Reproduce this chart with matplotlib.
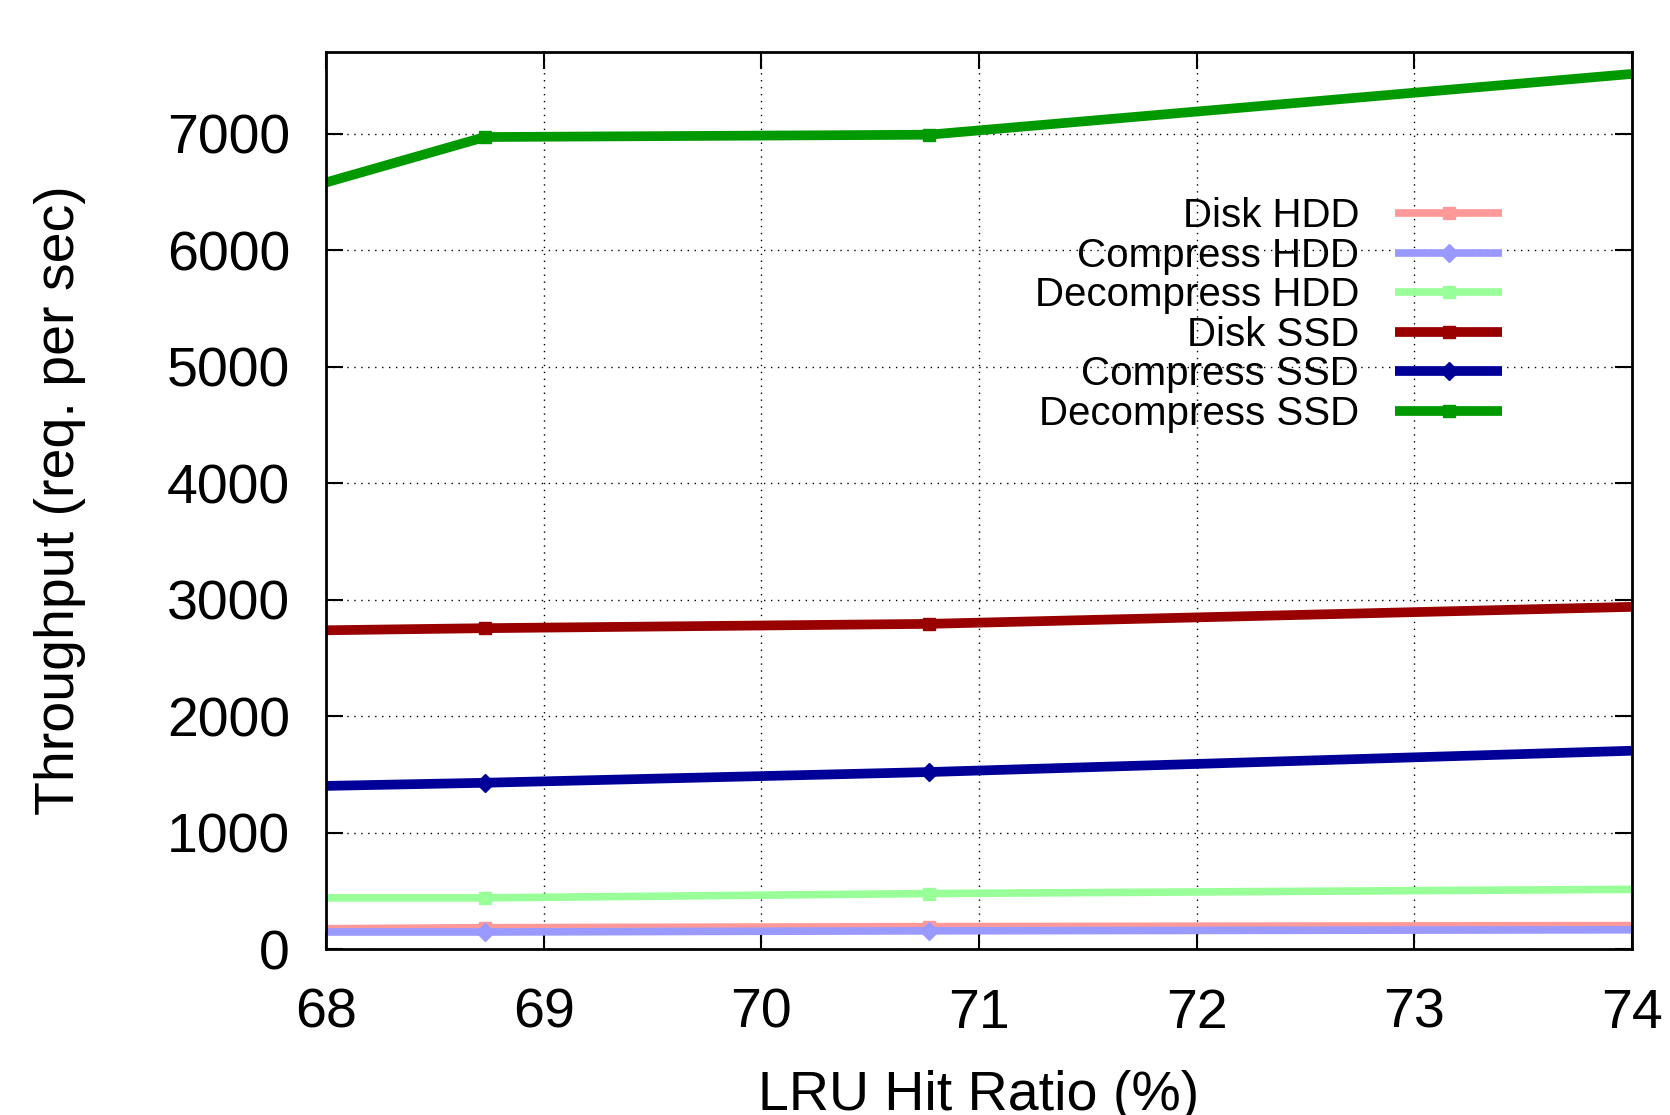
import matplotlib
matplotlib.use("Agg")
import matplotlib.pyplot as plt

plt.rcParams['font.family'] = ['Liberation Sans', 'DejaVu Sans']

# Data (x = LRU hit ratio %, y = throughput req/s); edge points are where lines meet the axes
hit_ratio = [68.0, 68.73, 70.77, 74.0]
disk_hdd = [174, 183, 192, 201]
compress_hdd = [146, 146, 156, 165]
decompress_hdd = [439, 439, 476, 512]
disk_ssd = [2736, 2754, 2791, 2937]
compress_ssd = [1400, 1427, 1519, 1702]
decompress_ssd = [6580, 6970, 6990, 7512]

series_names = ["Disk HDD", "Compress HDD", "Decompress HDD",
                "Disk SSD", "Compress SSD", "Decompress SSD"]
series_values = [disk_hdd, compress_hdd, decompress_hdd,
                 disk_ssd, compress_ssd, decompress_ssd]
colors = ["#ff9999", "#9999ff", "#99ff99", "#990000", "#000099", "#009900"]
markers = ["s", "D", "s", "s", "D", "s"]
widths = [5.5, 5.5, 5.5, 7, 7, 7]

x_ticks = [68, 69, 70, 71, 72, 73, 74]
y_ticks = [0, 1000, 2000, 3000, 4000, 5000, 6000, 7000]

fig = plt.figure(figsize=(16.70, 11.15), dpi=100)
ax = fig.add_axes([326/1670, 1-949/1115, (1632-326)/1670, (949-52)/1115])

for name, vals, c, m, lw in zip(series_names, series_values, colors, markers, widths):
    ax.plot(hit_ratio, vals, color=c, lw=lw, marker=m, markersize=9,
            markevery=[1, 2], label=name, solid_capstyle='butt', clip_on=True)

ax.set_xlim(68, 74)
ax.set_ylim(0, 7700)
ax.set_xticks(x_ticks)
ax.set_yticks(y_ticks)
ax.tick_params(axis='both', which='major', direction='in', length=12, width=1.5,
               top=True, right=True, labelsize=40)
ax.tick_params(axis='x', pad=28)
ax.tick_params(axis='y', pad=26)
ax.grid(True, which='major', color='black', linestyle=(0, (1, 4)), linewidth=1.0)
for s in ax.spines.values():
    s.set_linewidth(2)

ax.set_xlabel("LRU Hit Ratio (%)", fontsize=40, labelpad=22)
ax.set_ylabel("Throughput (req. per sec)", fontsize=40, labelpad=58)

leg = ax.legend(loc='upper right', bbox_to_anchor=(1502/1670, 1-197/1115),
                bbox_transform=fig.transFigure, frameon=False, markerfirst=False,
                fontsize=29, handlelength=2.65, handletextpad=0.9,
                labelspacing=0.04, borderpad=0, borderaxespad=0)
for t in leg.get_texts():
    t.set_ha('right')

fig.savefig("out.png", dpi=100)
